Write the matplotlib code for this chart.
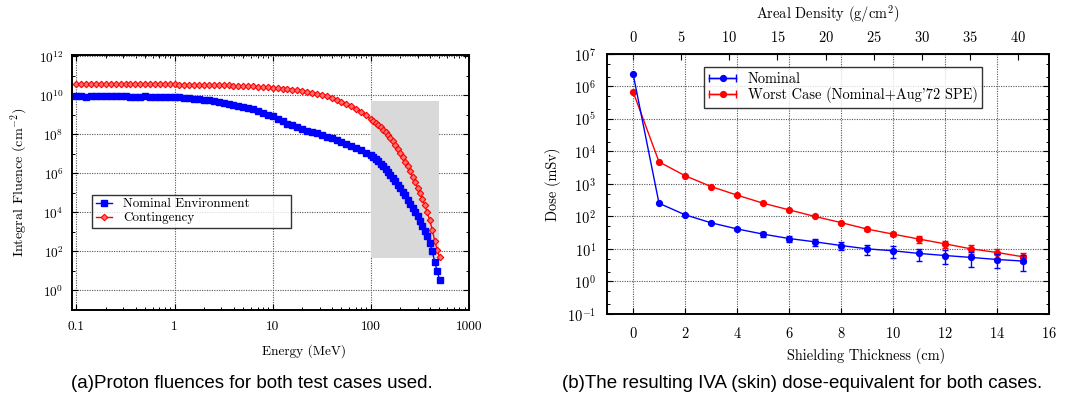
import matplotlib
matplotlib.use("Agg")
import matplotlib.pyplot as plt
from matplotlib.lines import Line2D
from matplotlib.patches import Rectangle
from matplotlib.legend_handler import HandlerTuple, HandlerLine2D
from matplotlib.ticker import LogLocator, FixedLocator, NullFormatter, LogFormatterSciNotation

# ---- panel (a): proton fluences ----
energy_nominal = [0.1, 0.112, 0.126, 0.141, 0.158, 0.178, 0.2, 0.224, 0.251, 0.282,
                  0.316, 0.355, 0.398, 0.447, 0.501, 0.562, 0.631, 0.708, 0.794, 0.891,
                  1, 1.12, 1.26, 1.41, 1.58, 1.78, 2, 2.24, 2.51, 2.82,
                  3.16, 3.55, 3.98, 4.47, 5.01, 5.62, 6.31, 7.08, 7.94, 8.91,
                  10, 11.2, 12.6, 14.1, 15.8, 17.8, 20, 22.4, 25.1, 28.2,
                  31.6, 35.5, 39.8, 44.7, 50.1, 56.2, 63.1, 70.8, 79.4, 89.1,
                  100, 106, 112, 119, 126, 133, 141, 150, 158, 168,
                  178, 188, 200, 211, 224, 237, 251, 266, 282, 299,
                  316, 335, 355, 376, 398, 422, 447, 473, 501]
fluence_nominal = [9.1e9, 8.9e9, 8.7e9, 9.3e9, 9.3e9, 9.3e9, 9.3e9, 9.1e9, 8.9e9, 8.9e9,
                   8.9e9, 8.7e9, 8.7e9, 8.5e9, 8.9e9, 8.7e9, 8.5e9, 8.5e9, 8.3e9, 8.3e9,
                   8.1e9, 7.9e9, 7.6e9, 7.2e9, 6.8e9, 6.3e9, 5.9e9, 5.5e9, 5.0e9, 4.6e9,
                   4.2e9, 3.7e9, 3.3e9, 2.9e9, 2.6e9, 2.3e9, 1.9e9, 1.55e9, 1.26e9, 1.02e9,
                   8.3e8, 6.3e8, 4.8e8, 3.6e8, 2.9e8, 2.3e8, 1.86e8, 1.58e8, 1.35e8, 1.12e8,
                   9.3e7, 7.8e7, 6.3e7, 5.1e7, 4.2e7, 3.3e7, 2.6e7, 2.0e7, 1.55e7, 1.17e7,
                   8.9e6, 7.1e6, 5.5e6, 4.2e6, 3.2e6, 2.3e6, 1.7e6, 1.2e6, 8.5e5, 5.9e5,
                   4.0e5, 2.7e5, 1.8e5, 1.15e5, 7.4e4, 4.6e4, 2.8e4, 1.7e4, 1.05e4, 6.2e3,
                   3.5e3, 2.0e3, 1.1e3, 6.0e2, 2.8e2, 1.0e2, 30, 10, 3.5]

energy_contingency = energy_nominal
fluence_contingency = [4.0e10, 4.0e10, 4.0e10, 4.0e10, 4.0e10, 4.0e10, 3.9e10, 3.9e10, 3.9e10, 3.9e10,
                       3.9e10, 3.8e10, 3.8e10, 3.8e10, 3.8e10, 3.8e10, 3.7e10, 3.7e10, 3.7e10, 3.7e10,
                       3.7e10, 3.6e10, 3.6e10, 3.6e10, 3.55e10, 3.55e10, 3.5e10, 3.5e10, 3.4e10, 3.4e10,
                       3.3e10, 3.25e10, 3.15e10, 3.1e10, 3.0e10, 2.95e10, 2.9e10, 2.8e10, 2.75e10, 2.6e10,
                       2.5e10, 2.4e10, 2.25e10, 2.15e10, 2.0e10, 1.86e10, 1.7e10, 1.55e10, 1.38e10, 1.23e10,
                       1.05e10, 8.9e9, 7.2e9, 5.9e9, 4.7e9, 3.7e9, 2.8e9, 2.1e9, 1.48e9, 9.5e8,
                       6.0e8, 4.8e8, 3.8e8, 2.95e8, 2.3e8, 1.7e8, 1.26e8, 9.3e7, 6.6e7, 4.4e7,
                       2.9e7, 1.8e7, 1.12e7, 6.8e6, 4.0e6, 2.3e6, 1.26e6, 6.8e5, 3.5e5, 1.86e5,
                       9.5e4, 4.8e4, 2.3e4, 1.0e4, 4.0e3, 1.3e3, 3.5e2, 1.26e2, 51]

band_energy = (100, 500)
band_fluence = (45, 5e9)

# ---- panel (b): dose vs shielding ----
thickness = [0, 1, 2, 3, 4, 5, 6, 7, 8, 9, 10, 11, 12, 13, 14, 15]
dose_nominal = [2.5e6, 255, 113, 64, 41.5, 28.7, 21, 16.6, 12.8, 10.1, 8.8, 7.3, 6.3, 5.5, 4.75, 4.25]
err_nominal = [0, 0, 0, 0, 3, 5, 4.5, 4, 3.8, 3.6, 3.4, 2.9, 2.9, 2.7, 2.2, 2.1]
dose_worst = [7.0e5, 4.8e3, 1.8e3, 835, 455, 257, 160, 100, 65, 41, 28.7, 20.2, 14.4, 10.1, 7.8, 5.75]
err_worst = [0, 0, 0, 0, 0, 0, 0, 0, 5, 4, 4, 4.5, 3.6, 3.1, 2.5, 2.0]
density_al = 2.7  # g/cm^3

plt.rcParams["font.family"] = ["cmr10", "DejaVu Serif"]
plt.rcParams["mathtext.fontset"] = "cm"
plt.rcParams["axes.formatter.use_mathtext"] = True
plt.rcParams["axes.unicode_minus"] = False

blue = "#0000ff"
red = "#ff0000"

fig = plt.figure(figsize=(10.73, 4.05), dpi=100)
ax1 = fig.add_axes([0.0671, 0.2346, 0.370, 0.630])
ax2 = fig.add_axes([0.5657, 0.2247, 0.412, 0.642])


def style_axis(ax, fs):
    for s in ax.spines.values():
        s.set_linewidth(1.4)
    ax.tick_params(which="both", direction="in", top=True, right=True, labelsize=fs, pad=6)
    ax.tick_params(which="major", length=4, width=0.8)
    ax.tick_params(which="minor", length=2.2, width=0.7)
    ax.grid(True, which="major", linestyle=(0, (1, 1.2)), color="#555555", linewidth=0.8)
    ax.set_axisbelow(True)


# panel (a)
style_axis(ax1, 9.6)
ax1.set_xscale("log")
ax1.set_yscale("log")
ax1.set_xlim(0.09, 1000)
ax1.set_ylim(0.1, 1.2e12)
ax1.add_patch(Rectangle((band_energy[0], band_fluence[0]), band_energy[1] - band_energy[0],
                        band_fluence[1] - band_fluence[0], facecolor="#d9d9d9",
                        edgecolor="none", zorder=1))
ax1.plot(energy_nominal, fluence_nominal, color=blue, marker="s", ms=4.5, lw=1,
         label="Nominal Environment", zorder=3)
ax1.plot(energy_contingency, fluence_contingency, color=red, marker="D", ms=3.3, lw=1,
         mfc="#ff7070", mec=red, mew=0.8, label="Contingency", zorder=2)
ax1.xaxis.set_major_locator(FixedLocator([0.1, 1, 10, 100, 1000]))
ax1.set_xticklabels(["0.1", "1", "10", "100", "1000"])
ax1.xaxis.set_minor_locator(LogLocator(base=10, subs=range(2, 10), numticks=20))
ax1.xaxis.set_minor_formatter(NullFormatter())
ax1.yaxis.set_major_locator(FixedLocator([1e0, 1e2, 1e4, 1e6, 1e8, 1e10, 1e12]))
ax1.yaxis.set_major_formatter(LogFormatterSciNotation())
ax1.yaxis.set_minor_locator(FixedLocator([1e1, 1e3, 1e5, 1e7, 1e9, 1e11]))
ax1.yaxis.set_minor_formatter(NullFormatter())
ax1.tick_params(axis="x", pad=8)
ax1.set_xlabel("Energy (MeV)", fontsize=9.6)
ax1.xaxis.set_label_coords(0.584, -0.135)
ax1.set_ylabel("Integral Fluence (cm$^{-2}$)", fontsize=10.2)
ax1.yaxis.set_label_coords(-0.105, 0.5)
leg1 = ax1.legend(loc="upper left", bbox_to_anchor=(0.051, 0.451, 0.50, 0.0), mode="expand",
                  fontsize=9.4, frameon=True, fancybox=False, edgecolor="black",
                  handlelength=1.3, handletextpad=0.8, borderpad=0.25, labelspacing=0.15,
                  numpoints=1, borderaxespad=0)
leg1.get_frame().set_linewidth(1.0)

# panel (b)
style_axis(ax2, 10.4)
ax2.set_yscale("log")
ax2.set_xlim(-1, 16)
ax2.set_ylim(0.1, 1e7)
ax2.errorbar(thickness, dose_nominal, yerr=err_nominal, color=blue, marker="o", ms=4.2,
             lw=1, capsize=2, elinewidth=1, zorder=3)
ax2.errorbar(thickness, dose_worst, yerr=err_worst, color=red, marker="o", ms=4.2,
             lw=1, capsize=2, elinewidth=1, zorder=2)
ax2.xaxis.set_major_locator(FixedLocator(list(range(0, 17, 2))))
ax2.yaxis.set_major_locator(LogLocator(base=10, numticks=20))
ax2.yaxis.set_minor_locator(LogLocator(base=10, subs=(2, 5), numticks=20))
ax2.yaxis.set_minor_formatter(NullFormatter())
ax2.tick_params(axis="x", top=False, pad=9)
ax2.tick_params(axis="y", pad=8)
ax2.set_xlabel("Shielding Thickness (cm)", fontsize=10.4)
ax2.xaxis.set_label_coords(0.586, -0.13)
ax2.set_ylabel("Dose (mSv)", fontsize=10.4)
ax2.yaxis.set_label_coords(-0.104, 0.5)

top = ax2.secondary_xaxis("top", functions=(lambda t: t * density_al, lambda d: d / density_al))
top.xaxis.set_major_locator(FixedLocator(list(range(0, 41, 5))))
top.tick_params(direction="in", length=4, width=0.8, labelsize=10.4, pad=6.5)
top.set_xlabel("Areal Density (g/cm$^2$)", fontsize=10.4, labelpad=8)

h_nom = Line2D([], [], color=blue, marker="o", ms=4.2, lw=1)
c_nom = Line2D([], [], color=blue, marker="|", ms=6, lw=1)
h_wc = Line2D([], [], color=red, marker="o", ms=4.2, lw=1)
c_wc = Line2D([], [], color=red, marker="|", ms=6, lw=1)
leg2 = ax2.legend([(c_nom, h_nom), (c_wc, h_wc)],
                  ["Nominal", "Worst Case (Nominal+Aug'72 SPE)"],
                  handler_map={tuple: HandlerTuple(ndivide=1, pad=0),
                               c_nom: HandlerLine2D(numpoints=2, marker_pad=0),
                               c_wc: HandlerLine2D(numpoints=2, marker_pad=0)},
                  loc="upper left", bbox_to_anchor=(0.219, 0.95, 0.63, 0.0), mode="expand",
                  fontsize=10.4, frameon=True, fancybox=False, edgecolor="black",
                  handlelength=1.9, handletextpad=0.8, borderpad=0.35, labelspacing=0.1,
                  numpoints=1, borderaxespad=0)
leg2.get_frame().set_linewidth(1.0)

cap_font = ["Liberation Sans", "DejaVu Sans"]
fig.text(252 / 1073, 1 - 384 / 405, "(a)Proton fluences for both test cases used.",
         ha="center", va="center", fontsize=13.5, family=cap_font)
fig.text(802 / 1073, 1 - 384 / 405, "(b)The resulting IVA (skin) dose-equivalent for both cases.",
         ha="center", va="center", fontsize=13.5, family=cap_font)

fig.savefig("out.png", dpi=100)
